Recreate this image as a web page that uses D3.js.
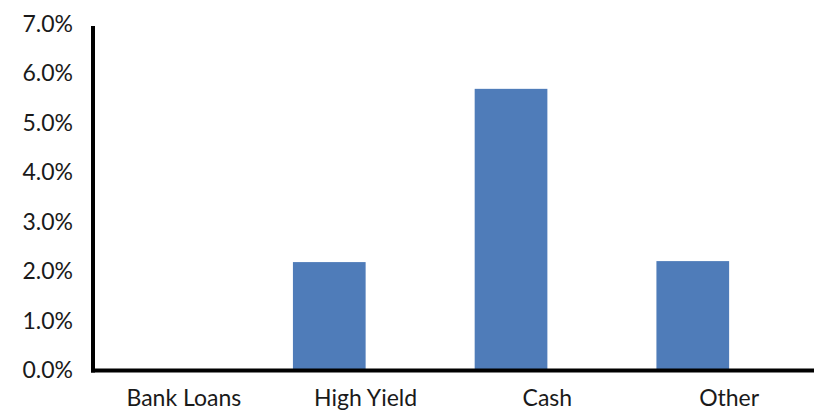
<!DOCTYPE html>
<html>
<head>
<meta charset="utf-8">
<script src="https://cdn.jsdelivr.net/npm/d3@7"></script>
<style>
  html, body { margin: 0; padding: 0; background: #fff; }
  svg { display: block; }
  text { font-family: Lato, "Open Sans", sans-serif; fill: #1a1a1a; }
</style>
</head>
<body>
<svg id="chart" width="814" height="416"></svg>
<script>
const categories = ["Bank Loans", "High Yield", "Cash", "Other"];
const values = [0.0, 2.19, 5.69, 2.21];
const yTicks = [0, 1, 2, 3, 4, 5, 6, 7];
const seriesSlots = ["value", "blank"];

(function () {
const svg = d3.select("#chart");
const mLeft = 93, mRight = 820, mTop = 24, mBottom = 370.5;

const x = d3.scaleBand().domain(categories).range([mLeft, mRight]).padding(0);
const xs = d3.scaleBand().domain(seriesSlots).range([0, x.bandwidth()]).paddingInner(0).paddingOuter(0.25);
const y = d3.scaleLinear().domain([0, 7]).range([mBottom, mTop]);

// bars
svg.append("g").selectAll("rect")
  .data(categories.map((c, i) => ({c, v: values[i]})))
  .join("rect")
  .attr("x", d => x(d.c) + xs("value"))
  .attr("width", xs.bandwidth())
  .attr("y", d => y(d.v))
  .attr("height", d => y(0) - y(d.v))
  .attr("fill", "#4f7cb9");

// y axis
const yAxis = d3.axisLeft(y).tickValues(yTicks).tickSize(0).tickPadding(20)
  .tickFormat(d => d.toFixed(1) + "%");
const gy = svg.append("g").attr("transform", `translate(${mLeft},0)`).call(yAxis);
gy.select(".domain").remove();
gy.selectAll("text").attr("font-size", 23).attr("font-family", "Lato, sans-serif").attr("fill", "#1a1a1a");
svg.append("line").attr("x1", mLeft).attr("x2", mLeft).attr("y1", y(7) + 2).attr("y2", mBottom + 2)
  .attr("stroke", "#000").attr("stroke-width", 4);

// x axis
const xAxis = d3.axisBottom(x).tickSize(0).tickPadding(19);
const gx = svg.append("g").attr("transform", `translate(0,${mBottom})`).call(xAxis);
gx.select(".domain").remove();
gx.selectAll("text").attr("font-size", 23).attr("font-family", "Lato, sans-serif").attr("fill", "#1a1a1a");
svg.append("line").attr("x1", mLeft - 2).attr("x2", 814).attr("y1", mBottom).attr("y2", mBottom)
  .attr("stroke", "#000").attr("stroke-width", 4);
})();
</script>
</body>
</html>
